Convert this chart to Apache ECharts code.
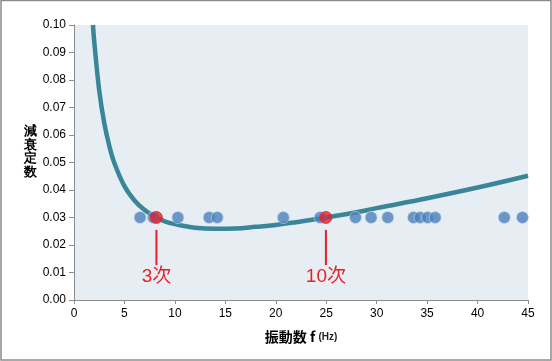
<!DOCTYPE html>
<html><head><meta charset="utf-8">
<script src="https://cdn.jsdelivr.net/npm/echarts@6/dist/echarts.min.js"></script>
<style>html,body{margin:0;padding:0;background:#fff}#c{width:552px;height:361px}</style>
</head><body><div id="c"></div>
<script>
// Data
const curveF = [1.88, 2, 2.5, 3, 3.5, 4, 5, 6, 7, 8, 9, 10, 12, 14, 16, 18, 20, 22, 25, 28, 30, 35, 40, 45];
const curveH = [0.100, 0.0942, 0.0762, 0.0643, 0.0560, 0.0498, 0.0414, 0.0362, 0.0327, 0.0303, 0.0286, 0.0276, 0.0263, 0.0259, 0.0260, 0.0266, 0.0273, 0.0283, 0.0300, 0.0319, 0.0334, 0.0370, 0.0409, 0.0452];
const pointF = [6.55, 7.87, 10.3, 13.4, 14.2, 20.75, 24.4, 27.9, 29.45, 31.1, 33.65, 34.3, 35.05, 35.8, 42.65, 44.45];
const pointH = 0.03;
const modeF = [8.17, 24.97];
const modeNames = ['3次', '10次'];
const modeLineTop = 0.0255, modeLineBottom = 0.0127, modeLabelH = 0.0083;
const xTicks = [0, 5, 10, 15, 20, 25, 30, 35, 40, 45];
const yTicks = [0, 0.01, 0.02, 0.03, 0.04, 0.05, 0.06, 0.07, 0.08, 0.09, 0.10];

const FONT = '"Liberation Sans", Arial, "Noto Sans CJK JP", sans-serif';
const JP = '"Noto Sans CJK JP", sans-serif';
const RED = '#e8202a';

const series = [
  {
    type: 'line', data: curveF.map((f, i) => [f, curveH[i]]), smooth: 0.4, showSymbol: false,
    lineStyle: { color: '#3a8598', width: 4.5 }, z: 3, silent: true
  },
  {
    type: 'scatter', data: pointF.map(f => [f, pointH]), symbolSize: 12,
    itemStyle: { color: '#4b7fbc', borderColor: 'rgba(200,215,235,0.8)', borderWidth: 1 }, z: 4
  },
  {
    type: 'scatter', data: modeF.map(f => [f, pointH]), symbolSize: 12,
    itemStyle: { color: RED, borderColor: RED, borderWidth: 1 }, z: 5
  },
  {
    type: 'scatter', data: modeF.map(f => [f, pointH]), symbolSize: 3,
    itemStyle: { color: '#4b6fa8' }, z: 6
  }
];
modeF.forEach((f, i) => {
  series.push({
    type: 'line', data: [[f, modeLineTop], [f, modeLineBottom]], showSymbol: false,
    lineStyle: { color: RED, width: 2 }, z: 5, silent: true
  });
  series.push({
    type: 'scatter', data: [[f, modeLabelH]], symbolSize: 2, itemStyle: { opacity: 0 }, z: 6,
    label: { show: true, position: 'inside', formatter: modeNames[i], color: RED, fontSize: 19, fontFamily: FONT, opacity: 1 }
  });
});

const chart = echarts.init(document.getElementById('c'), null, { renderer: 'canvas' });
chart.setOption({
  animation: false,
  backgroundColor: '#fff',
  grid: { left: 74, right: 24, top: 25, bottom: 61, show: true, backgroundColor: '#e7eef3', borderWidth: 0 },
  xAxis: {
    type: 'value', min: xTicks[0], max: xTicks[xTicks.length - 1], interval: 5,
    axisLine: { show: true, onZero: false, lineStyle: { color: '#8c8c8c', width: 1 } },
    axisTick: { show: true, length: 4, lineStyle: { color: '#8c8c8c' } },
    splitLine: { show: false },
    axisLabel: { color: '#000', fontSize: 12, fontFamily: FONT, margin: 8 },
    name: '{a|振動数 f} {b|(Hz)}', nameLocation: 'middle', nameGap: 30,
    nameTextStyle: {
      rich: {
        a: { fontSize: 14, fontWeight: 'bold', color: '#000', fontFamily: JP },
        b: { fontSize: 10, fontWeight: 'bold', color: '#222', fontFamily: FONT }
      }
    }
  },
  yAxis: {
    type: 'value', min: yTicks[0], max: yTicks[yTicks.length - 1], interval: 0.01,
    axisLine: { show: true, lineStyle: { color: '#8c8c8c', width: 1 } },
    axisTick: { show: true, length: 5, lineStyle: { color: '#8c8c8c' } },
    splitLine: { show: false },
    axisLabel: { color: '#000', fontSize: 12, fontFamily: FONT, margin: 8, formatter: v => v.toFixed(2) }
  },
  graphic: [
    { type: 'rect', shape: { x: 1, y: 0.5, width: 550, height: 359.5 }, style: { fill: 'none', stroke: '#8c8c8c', lineWidth: 1.5 }, silent: true },
    { type: 'text', left: 24, top: 125, style: { text: '減\n衰\n定\n数', fontSize: 13, lineHeight: 13.5, fontWeight: 'bold', fill: '#000', font: 'bold 13px "Noto Sans CJK JP", sans-serif' } }
  ],
  series: series
});
</script>
</body></html>
